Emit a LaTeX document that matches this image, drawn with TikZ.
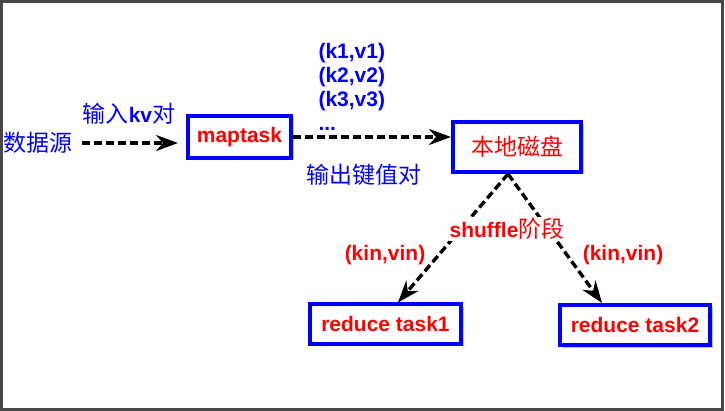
\documentclass[tikz,border=0pt]{standalone}
\usepackage{fontspec}
\setmainfont{Liberation Sans}
\newfontfamily\cjk{Noto Sans CJK SC}
\usetikzlibrary{shapes,arrows.meta,positioning,calc,shadows}
\newcommand{\zh}[1]{{\fontsize{23}{26}\selectfont\cjk\mdseries #1}}

\begin{document}
\begin{tikzpicture}[x=1pt, y=-1pt,
    box/.style={draw=blue, line width=4pt, fill=white, inner sep=0pt, text=red,
        drop shadow={shadow xshift=2.5pt, shadow yshift=-2.5pt, fill=black!45, opacity=0.5}},
    bluetext/.style={text=blue, font=\fontsize{21}{24}\selectfont\bfseries},
    redtext/.style={text=red, font=\fontsize{21}{24}\selectfont\bfseries},
    flow/.style={draw=black, line width=3.4pt, dash pattern=on 8pt off 4pt,
        -{Stealth[length=22pt, width=16pt, inset=7pt]}}]
    \useasboundingbox (0,0) rectangle (725,411);
    \draw[line width=3pt, black!72] (1.5,1.5) rectangle (722.5,409);

    % boxes
    \node[box, minimum width=103pt, minimum height=42pt, font=\fontsize{21}{24}\selectfont\bfseries] (maptask) at (239.5,137) {maptask};
    \node[box, minimum width=128pt, minimum height=50pt] (disk) at (517,147) {\zh{本地磁盘}};
    \node[box, minimum width=151pt, minimum height=39pt, font=\fontsize{21}{24}\selectfont\bfseries] (r1) at (385.5,324) {reduce task1};
    \node[box, minimum width=150pt, minimum height=40pt, font=\fontsize{21}{24}\selectfont\bfseries] (r2) at (635,325) {reduce task2};

    % texts
    \node[bluetext] (src) at (38,143) {\zh{数据源}};
    \node[bluetext] (kvin) at (129,114) {\zh{输入}kv\zh{对}};
    \node[bluetext, align=left, anchor=north west] (pairs) at (315,40) {(k1,v1)\\(k2,v2)\\(k3,v3)\\...};
    \node[bluetext] (kvout) at (364,175) {\zh{输出键值对}};

    % connectors
    \coordinate (fork) at ($(disk.south)+(-9,0)$);
    \draw[flow, shorten <=6pt, shorten >=8pt] (src.east) -- (src.east -| maptask.west);
    \draw[flow] (maptask.east) -- (maptask.east -| disk.west);
    \draw[flow] (fork) -- ($(r1.north)+(12.5,0)$);
    \draw[flow] (fork) -- ($(r2.north)+(-33,0)$);

    % labels on the fork
    \node[redtext, fill=white, inner sep=1pt] (shuffle) at (507,229) {shuffle\zh{阶段}};
    \node[redtext] (kin1) at (385,255) {(kin,vin)};
    \node[redtext] (kin2) at (623,255) {(kin,vin)};
\end{tikzpicture}
\end{document}
